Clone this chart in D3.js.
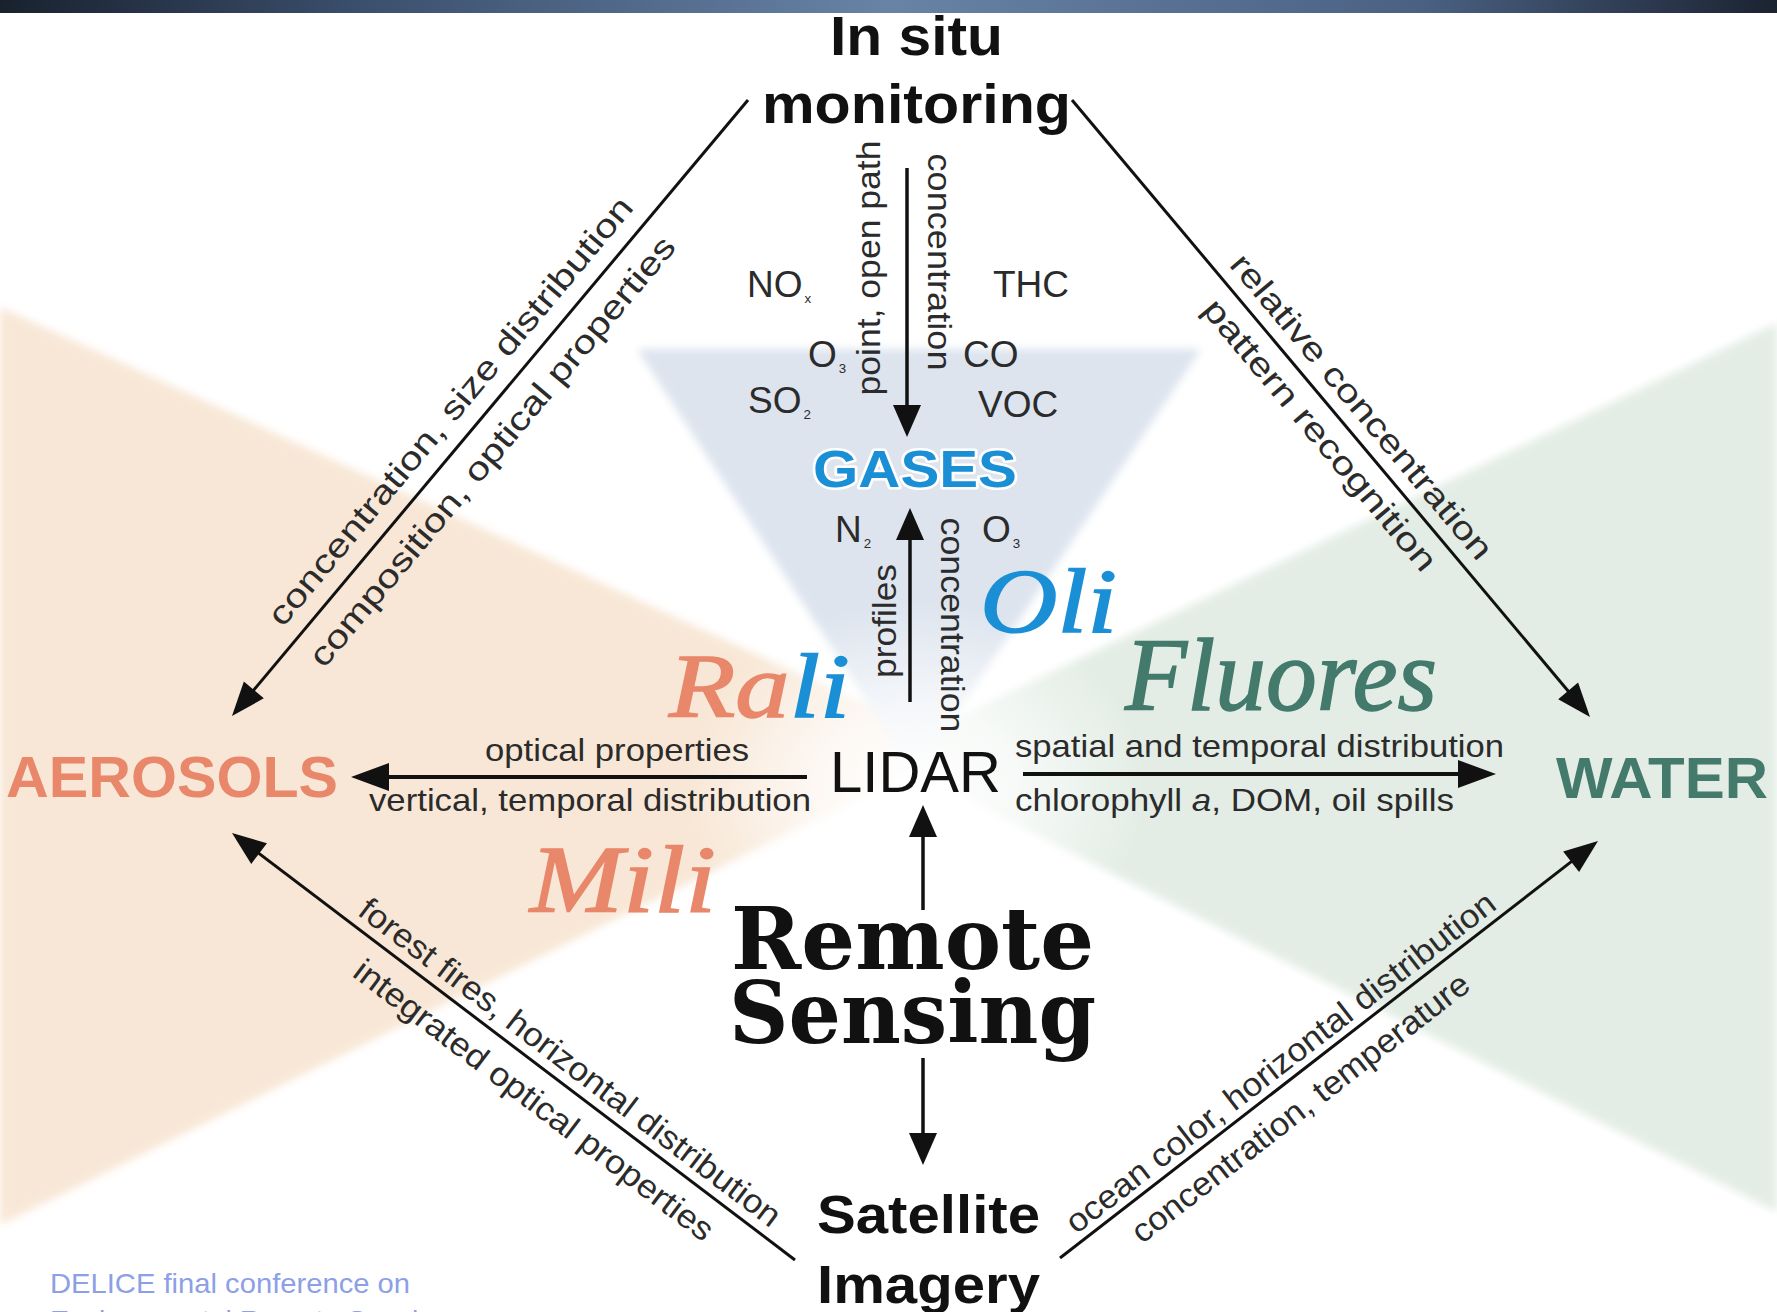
<!DOCTYPE html>
<html>
<head>
<meta charset="utf-8">
<script src="https://cdn.jsdelivr.net/npm/d3@7"></script>
<style>
	body { margin: 0; background: #fff; }
	svg { display: block; }
</style>
</head>
<body>
<div id="chart"></div>
<script>
// diagram content
const topNode = ["In situ", "monitoring"];
const centreNode = ["Remote", "Sensing"];
const bottomNode = ["Satellite", "Imagery"];
const targets = ["AEROSOLS", "GASES", "WATER"];
const lidarName = "LIDAR";
const insituGasesLeft = [["NO", "x"], ["O", "3"], ["SO", "2"]];
const insituGasesRight = ["THC", "CO", "VOC"];
const lidarGases = [["N", "2"], ["O", "3"]];
const techniques = [
	[["Ra", "aerosols"], ["li", "gases"]],
	[["Mili", "aerosols"]],
	[["Oli", "gases"]],
	[["Fluores", "water"]]
];
const diagLabels = [
	["concentration, size distribution", "composition, optical properties"],
	["relative concentration", "pattern recognition"],
	["forest fires, horizontal distribution", "integrated optical properties"],
	["ocean color, horizontal distribution", "concentration, temperature"]
];
const verticalLabels = ["point, open path", "concentration", "profiles", "concentration"];
const aerosolLabels = ["optical properties", "vertical, temporal distribution"];
const waterLabels = ["spatial and temporal distribution", ["chlorophyll ", "a", ", DOM, oil spills"]];
const footer = ["DELICE final conference on", "Environmental Remote Sensing"];

// layout (pixels in the 1777 x 1312 frame)
const W = 1777, H = 1312;
const colors = { aerosols: '#e8876a', gases: '#1b8fd6', water: '#437a6c', ink: '#2b2b2b' };
const pts = {
	insituL: [748, 100], insituR: [1072, 100],
	aeroTop: [232, 716], aeroBot: [232, 833],
	waterTop: [1590, 717], waterBot: [1598, 841],
	satL: [795, 1260], satR: [1060, 1258]
};
// reading start, reading end, [along, offset, length] above / below
const diagLayout = [
	[pts.aeroTop, pts.insituL, [374, -29, 548], [370, 29, 550]],
	[pts.insituR, pts.waterTop, [421, -25, 388], [416, 25, 344]],
	[pts.aeroBot, pts.satL, [408, -22, 520], [402, 30, 442]],
	[pts.satR, pts.waterBot, [294, -20, 534], [282, 28, 418]]
];

const svg = d3.select('#chart').append('svg')
	.attr('width', W)
	.attr('height', H)
	.style('font-family', '"Liberation Sans", Arial, sans-serif');

const defs = svg.append('defs');
const hdr = defs.append('linearGradient').attr('id', 'hdr');
[[0, '#19212e'], [0.2, '#3a4f6c'], [0.5, '#6883a6'], [0.8, '#4a6182'], [1, '#1b2331']]
	.forEach(s => hdr.append('stop').attr('offset', s[0]).attr('stop-color', s[1]));
const glow = defs.append('radialGradient').attr('id', 'glow');
[[0, 1], [0.45, 0.7], [1, 0]].forEach(s => glow.append('stop')
	.attr('offset', s[0]).attr('stop-color', '#fff').attr('stop-opacity', s[1]));
defs.append('filter').attr('id', 'soft')
	.append('feGaussianBlur').attr('stdDeviation', 4);

// background wedges
const bg = svg.append('g').attr('filter', 'url(#soft)');
const poly = d3.line().curve(d3.curveLinearClosed);
bg.append('path').attr('d', poly([[0, 307], [960, 748], [0, 1225]])).attr('fill', '#f8e7d6');
bg.append('path').attr('d', poly([[W, 323], [880, 755], [W, 1212]])).attr('fill', '#e3ede5');
bg.append('path').attr('d', poly([[637, 349], [1201, 349], [915, 775]])).attr('fill', '#dde4ee');
svg.append('ellipse').attr('cx', 916).attr('cy', 790).attr('rx', 230).attr('ry', 190).attr('fill', 'url(#glow)');

svg.append('rect').attr('x', 0).attr('y', 0).attr('width', W).attr('height', 13).attr('fill', 'url(#hdr)');

const g = svg.append('g');

function arrow(p0, p1, sw, head) {
	const dx = p1[0] - p0[0], dy = p1[1] - p0[1], L = Math.hypot(dx, dy);
	const ux = dx / L, uy = dy / L;
	const hl = head ? head[0] : 0, hw = head ? head[1] : 0;
	g.append('line')
		.attr('x1', p0[0]).attr('y1', p0[1])
		.attr('x2', p1[0] - ux * hl * 0.8).attr('y2', p1[1] - uy * hl * 0.8)
		.attr('stroke', '#111').attr('stroke-width', sw);
	if (head) {
		const bx = p1[0] - ux * hl, by = p1[1] - uy * hl;
		g.append('path')
			.attr('d', poly([p1, [bx - uy * hw, by + ux * hw], [bx + uy * hw, by - ux * hw]]))
			.attr('fill', '#111');
	}
}

function text(str, x, y, o) {
	const t = g.append('text').attr('x', x).attr('y', y).text(str)
		.attr('font-size', o.fs).attr('fill', o.fill || '#111')
		.attr('text-anchor', o.anchor || 'start');
	if (o.weight) t.attr('font-weight', o.weight);
	if (o.family) t.attr('font-family', o.family);
	if (o.style) t.attr('font-style', o.style);
	if (o.len) t.attr('textLength', o.len).attr('lengthAdjust', 'spacingAndGlyphs');
	if (o.halo) t.attr('stroke', '#fff').attr('stroke-width', o.halo).attr('paint-order', 'stroke').attr('stroke-linejoin', 'round');
	if (o.rotate !== undefined) t.attr('transform', `rotate(${o.rotate},${x},${y})`);
	return t;
}

function alongLabel(p0, p1, str, spec, fs) {
	const dx = p1[0] - p0[0], dy = p1[1] - p0[1], L = Math.hypot(dx, dy);
	const ux = dx / L, uy = dy / L, vx = -uy, vy = ux;
	const off = spec[1] + 0.35 * fs;
	const x = p0[0] + ux * spec[0] + vx * off, y = p0[1] + uy * spec[0] + vy * off;
	const ang = Math.atan2(dy, dx) * 180 / Math.PI;
	g.append('text')
		.attr('transform', `translate(${x},${y}) rotate(${ang})`)
		.attr('text-anchor', 'middle')
		.attr('font-size', fs).attr('fill', colors.ink)
		.attr('textLength', spec[2]).attr('lengthAdjust', 'spacingAndGlyphs')
		.text(str);
}

// diagonal links
arrow(pts.insituL, pts.aeroTop, 3, [34, 13]);
arrow(pts.insituR, pts.waterTop, 3, [34, 13]);
arrow(pts.satL, pts.aeroBot, 3, [34, 13]);
arrow(pts.satR, pts.waterBot, 3, [34, 13]);
diagLayout.forEach((d, i) => {
	alongLabel(d[0], d[1], diagLabels[i][0], d[2], 33);
	alongLabel(d[0], d[1], diagLabels[i][1], d[3], 33);
});

// vertical arrows
arrow([907, 168], [907, 437], 3.5, [32, 14]);
arrow([910, 702], [910, 508], 3.5, [32, 14]);
arrow([923, 910], [923, 805], 3.5, [32, 14]);
arrow([923, 1058], [923, 1165], 3.5, [32, 14]);
// horizontal arrows
arrow([807, 777], [351, 777], 4, [38, 14]);
arrow([1023, 774], [1496, 774], 4, [38, 14]);

// vertical labels
text(verticalLabels[0], 880, 268, { fs: 33, fill: colors.ink, anchor: 'middle', len: 255, rotate: -90 });
text(verticalLabels[1], 928, 262, { fs: 33, fill: colors.ink, anchor: 'middle', len: 217, rotate: 90 });
text(verticalLabels[2], 896, 621, { fs: 33, fill: colors.ink, anchor: 'middle', len: 114, rotate: -90 });
text(verticalLabels[3], 941, 625, { fs: 33, fill: colors.ink, anchor: 'middle', len: 215, rotate: 90 });

// gas species
function species(s, x, y, fs) {
	const t = text(s[0], x, y, { fs: fs, fill: colors.ink });
	if (s[1]) t.append('tspan').attr('font-size', fs * 0.36).attr('dy', 6).attr('dx', 2).text(s[1]);
}
const leftGasPos = [[747, 297], [808, 367], [748, 413]];
insituGasesLeft.forEach((s, i) => species(s, leftGasPos[i][0], leftGasPos[i][1], 37));
const rightGasPos = [[993, 297], [963, 367], [978, 417]];
insituGasesRight.forEach((s, i) => species([s, ''], rightGasPos[i][0], rightGasPos[i][1], 37));
const lidarGasPos = [[835, 542], [982, 542]];
lidarGases.forEach((s, i) => species(s, lidarGasPos[i][0], lidarGasPos[i][1], 37));

// horizontal labels
text(aerosolLabels[0], 485, 761, { fs: 32, fill: colors.ink, len: 264 });
text(aerosolLabels[1], 369, 811, { fs: 32, fill: colors.ink, len: 442 });
text(waterLabels[0], 1015, 757, { fs: 32, fill: colors.ink, len: 489 });
const chl = text(waterLabels[1][0], 1015, 811, { fs: 32, fill: colors.ink, len: 439 });
chl.append('tspan').attr('font-style', 'italic').text(waterLabels[1][1]);
chl.append('tspan').text(waterLabels[1][2]);

// technique names (script)
const techPos = [[669, 717, 181, 92], [530, 912, 186, 96], [980, 632, 137, 92], [1125, 710, 312, 104]];
techniques.forEach((parts, i) => {
	const p = techPos[i];
	const t = g.append('text').attr('x', p[0]).attr('y', p[1])
		.attr('font-family', '"Liberation Serif", "DejaVu Serif", serif')
		.attr('font-style', 'italic')
		.attr('font-size', p[3])
		.attr('textLength', p[2]).attr('lengthAdjust', 'spacingAndGlyphs');
	parts.forEach(q => t.append('tspan').text(q[0])
		.attr('fill', colors[q[1]]).attr('stroke', colors[q[1]]).attr('stroke-width', 1.5));
});

// main nodes
text(topNode[0], 830, 55, { fs: 56, weight: 'bold', len: 173 });
text(topNode[1], 762, 123, { fs: 56, weight: 'bold', len: 309 });
text(targets[0], 6, 797, { fs: 58, weight: 'bold', fill: colors.aerosols, len: 332 });
text(targets[1], 813, 487, { fs: 52, weight: 'bold', fill: colors.gases, len: 204, halo: 5 });
text(targets[2], 1556, 798, { fs: 58, weight: 'bold', fill: colors.water, len: 212 });
text(lidarName, 830, 792, { fs: 58, fill: '#111', len: 171 });
text(centreNode[0], 731, 969, { fs: 86, weight: 'bold', family: '"DejaVu Serif", serif', len: 363 });
text(centreNode[1], 729, 1043, { fs: 86, weight: 'bold', family: '"DejaVu Serif", serif', len: 367 });
text(bottomNode[0], 817, 1233, { fs: 53, weight: 'bold', len: 223 });
text(bottomNode[1], 817, 1303, { fs: 53, weight: 'bold', len: 223 });

// footer
text(footer[0], 50, 1293, { fs: 28, fill: '#8d9fe6', len: 360 });
text(footer[1], 50, 1330, { fs: 28, fill: '#8d9fe6', len: 400 });
</script>
</body>
</html>
